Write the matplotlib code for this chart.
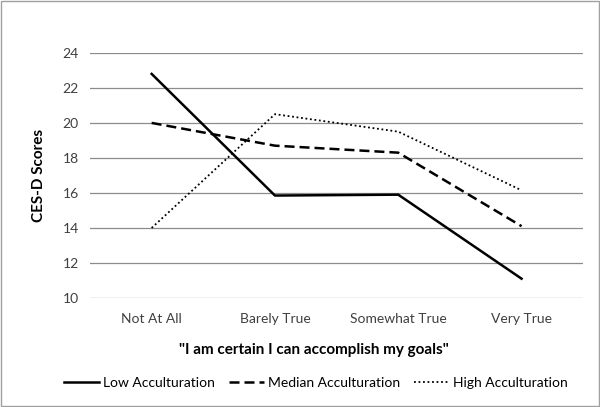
import matplotlib.pyplot as plt
from matplotlib.patches import Rectangle

categories = ["Not At All", "Barely True", "Somewhat True", "Very True"]
low = [22.8, 15.85, 15.9, 11.1]
median = [20.0, 18.7, 18.3, 14.1]
high = [14.0, 20.5, 19.5, 16.15]
yticks = [10, 12, 14, 16, 18, 20, 22, 24]

plt.rcParams['font.family'] = ['Lato', 'DejaVu Sans']

fig = plt.figure(figsize=(6.0, 4.07), dpi=100)
ax = fig.add_axes([0.15, 0.268, 0.822, 0.602])

x = list(range(len(categories)))
ax.plot(x, low, color='black', lw=1.8, ls='-', label='Low Acculturation')
ax.plot(x, median, color='black', lw=1.8, ls=(0, (4, 2)), label='Median Acculturation')
ax.plot(x, high, color='black', lw=1.3, ls=(0, (1, 1.5)), label='High Acculturation')

ax.set_xlim(-0.5, 3.5)
ax.set_ylim(10, 24)
ax.set_yticks(yticks)
ax.set_xticks(x)
ax.set_xticklabels(categories)
ax.yaxis.grid(True, color='#8c8c8c', lw=0.9)
ax.set_axisbelow(True)
for s in ax.spines.values():
    s.set_visible(False)
ax.tick_params(length=0, labelsize=10, colors='#404040', pad=8)
ax.tick_params(axis='x', pad=11)

ax.set_ylabel("CES-D Scores", fontsize=11, fontweight='bold', labelpad=12)
fig.text(314 / 600, 1 - 350 / 407, '"I am certain I can accomplish my goals"',
         fontsize=11, fontweight='bold', ha='center', va='center')

leg = fig.legend(loc='center', bbox_to_anchor=(316 / 600, 1 - 383 / 407), ncol=3, frameon=False,
                 fontsize=10, handlelength=2.5, handletextpad=0.3, columnspacing=1.0)

fig.patches.append(Rectangle((0.002, 0.002), 0.996, 0.996, transform=fig.transFigure,
                             fill=False, edgecolor='#a0a0a0', lw=1.0))

fig.savefig("out.png", dpi=100)
